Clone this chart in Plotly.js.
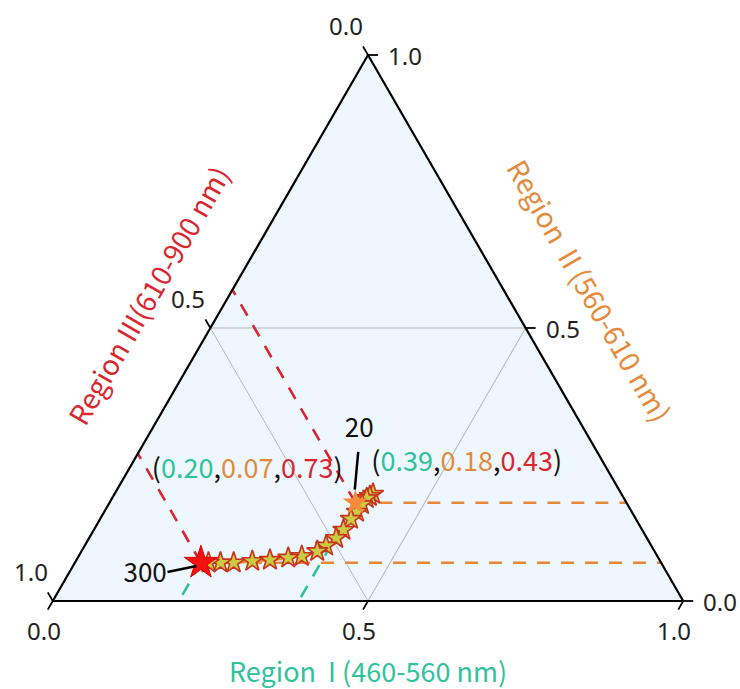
<!DOCTYPE html>
<html><head><meta charset="utf-8">
<script src="https://cdn.plot.ly/plotly-3.0.1.min.js"></script>
<style>html,body{margin:0;padding:0;background:#fff}</style>
</head><body><div id="chart" style="width:740px;height:689px"></div>
<script>
// Trajectory (fractions of emission in each spectral region)
const regionI   = [0.410,0.407,0.404,0.402,0.401,0.398,0.396,0.392,0.383,0.374,0.354,0.334,0.307,0.280,0.252,0.231,0.212,0.200];
const regionII  = [0.196,0.192,0.188,0.177,0.163,0.150,0.130,0.115,0.101,0.091,0.082,0.079,0.075,0.073,0.070,0.070,0.070,0.070];
const regionIII = [0.394,0.401,0.408,0.421,0.436,0.452,0.474,0.493,0.516,0.535,0.564,0.587,0.618,0.647,0.678,0.699,0.718,0.730];

// Marked end points
const markLabels = ['20', '300'];
const markI   = [0.39, 0.20];
const markII  = [0.18, 0.07];
const markIII = [0.43, 0.73];

// Axis ticks (value of each region along its own edge)
const tickVals = [0, 0.5, 1];
const tickText = ['0.0', '0.5', '1.0'];

const cI = '#2fc29b', cII = '#e48a3a', cIII = '#d9262f';
const fontMain = 'Noto Sans CJK SC, Noto Sans, sans-serif';
const fontTick = 'Noto Sans, sans-serif';

// plot geometry (margins)
const M = {l:52, r:56, t:55, b:88};
const PW = 740 - M.l - M.r, PH = 689 - M.t - M.b;
const triW = Math.min(PW, PH * 2 / Math.sqrt(3));
const px0 = (PW - triW) / 2 / PW, px1 = 1 - px0;
function paperXY(I, II){ return [px0 + (I + II / 2) * (px1 - px0), II]; }

const traces = [];
// guide lines for each marked point
const dashStyle = '13px,11px';
for (let k = 0; k < markI.length; k++) {
  const I = markI[k], II = markII[k], III = markIII[k];
  traces.push({type:'scatterternary', mode:'lines', a:[II, II], b:[III, 0], c:[I, I + III],
    line:{color:cII, width:2.6, dash:dashStyle}, hoverinfo:'skip', showlegend:false});
  traces.push({type:'scatterternary', mode:'lines', a:[II, II + I], b:[III, III], c:[I, 0],
    line:{color:cIII, width:2.6, dash:dashStyle}, hoverinfo:'skip', showlegend:false});
  traces.push({type:'scatterternary', mode:'lines', a:[II, 0], b:[III, III + II], c:[I, I],
    line:{color:cI, width:2.6, dash:dashStyle}, hoverinfo:'skip', showlegend:false});
}
// trajectory
traces.push({type:'scatterternary', mode:'lines+markers', a:regionII, b:regionIII, c:regionI,
  line:{color:'#e8903a', width:3},
  marker:{symbol:'star', size:16, color:'#c9cc42', line:{color:'#c8321f', width:1.6}},
  hoverinfo:'skip', showlegend:false});
// end point stars
traces.push({type:'scatterternary', mode:'markers', a:[markII[0]], b:[markIII[0]], c:[markI[0]],
  marker:{symbol:'star', size:19, color:'#f58a38', line:{width:0}}, hoverinfo:'skip', showlegend:false});
traces.push({type:'scatterternary', mode:'markers', a:[markII[1]], b:[markIII[1]], c:[markI[1]],
  marker:{symbol:'star', size:25, color:'#f4100f', line:{color:'#e00000', width:1}}, hoverinfo:'skip', showlegend:false});

// leader lines
traces.push({type:'scatterternary', mode:'lines', a:[0.273, 0.204], b:[0.379, 0.419], c:[0.348, 0.377],
  line:{color:'#000', width:2.5}, hoverinfo:'skip', showlegend:false});
traces.push({type:'scatterternary', mode:'lines', a:[0.053, 0.064], b:[0.7915, 0.740], c:[0.1555, 0.196],
  line:{color:'#000', width:2.5}, hoverinfo:'skip', showlegend:false});

function fmt(v){ return v.toFixed(2); }
function tripleText(k){
  return '(<span style="color:'+cI+'">'+fmt(markI[k])+'</span>,<span style="color:'+cII+'">'+fmt(markII[k])+
    '</span>,<span style="color:'+cIII+'">'+fmt(markIII[k])+'</span>)';
}
traces.push({type:'scatterternary', mode:'text', a:[0.251, 0.2367], b:[0.218, 0.573], c:[0.531, 0.190],
  text:[tripleText(0), tripleText(1)], textposition:'middle center', cliponaxis:false,
  textfont:{family:fontMain, size:27, color:'#111'}, hoverinfo:'skip', showlegend:false});
traces.push({type:'scatterternary', mode:'text', a:[0.312, 0.047], b:[0.358, 0.830], c:[0.330, 0.123],
  text:markLabels, textposition:'middle center', cliponaxis:false,
  textfont:{family:fontMain, size:26, color:'#111'}, hoverinfo:'skip', showlegend:false});

const axisCommon = {
  tickmode:'array', tickvals:tickVals, ticks:'', showticklabels:false,
  showline:true, linecolor:'#000', linewidth:2.2,
  showgrid:true, gridcolor:'#b8b8b8', gridwidth:1,
  title:{text:''}
};

// tick marks and labels along each edge
const shapes = [], annotations = [];
const tickLen = 10;
const edges = [
  // Region III on the left edge (I = 0): tick up-left
  {pos: v => paperXY(0, 1 - v), dx: -0.5 * tickLen, dy: 0.866 * tickLen, lx: -22, ly: 30},
  // Region I on the bottom edge (II = 0): tick down-left
  {pos: v => paperXY(v, 0), dx: -0.5 * tickLen, dy: -0.866 * tickLen, lx: -9, ly: -29},
  // Region II on the right edge (III = 0): tick to the right
  {pos: v => paperXY(1 - v, v), dx: tickLen, dy: 0, lx: 37, ly: 0}
];
edges.forEach(e => {
  tickVals.forEach((v, i) => {
    const p = e.pos(v);
    shapes.push({type:'line', xref:'paper', yref:'paper', xsizemode:'pixel', ysizemode:'pixel',
      xanchor:p[0], yanchor:p[1], x0:0, y0:0, x1:e.dx, y1:e.dy,
      line:{color:'#000', width:1.8}});
    annotations.push({text:tickText[i], xref:'paper', yref:'paper', x:p[0], y:p[1],
      xshift:e.lx, yshift:e.ly, showarrow:false, xanchor:'center', yanchor:'middle',
      font:{family:fontTick, size:24, color:'#222'}});
  });
});

annotations.push(
  {text:'Region  I (460-560 nm)', xref:'paper', yref:'paper', x:0.5, y:(601-670)/PH, showarrow:false,
   xanchor:'center', yanchor:'middle', font:{family:fontMain, size:27, color:cI}},
  {text:'Region III(610-900 nm)', xref:'paper', yref:'paper', x:(148-52)/PW, y:(601-295)/PH, showarrow:false,
   textangle:-60, xanchor:'center', yanchor:'middle', font:{family:fontMain, size:28, color:cIII}},
  {text:'Region  II (560-610 nm)', xref:'paper', yref:'paper', x:(590-52)/PW, y:(601-290)/PH, showarrow:false,
   textangle:60, xanchor:'center', yanchor:'middle', font:{family:fontMain, size:28, color:cII}}
);

const layout = {
  width:740, height:689,
  margin:M,
  paper_bgcolor:'#ffffff',
  showlegend:false,
  ternary:{
    sum:1,
    bgcolor:'#eef7fd',
    domain:{x:[0,1], y:[0,1]},
    aaxis:Object.assign({}, axisCommon),
    baxis:Object.assign({}, axisCommon),
    caxis:Object.assign({}, axisCommon)
  },
  shapes:shapes,
  annotations:annotations
};

Plotly.newPlot('chart', traces, layout, {displayModeBar:false, staticPlot:true});
</script></body></html>
